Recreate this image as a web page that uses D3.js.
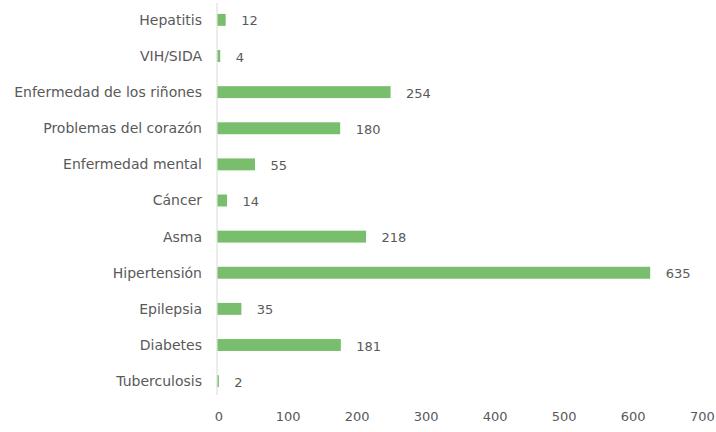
<!DOCTYPE html>
<html>
<head>
<meta charset="utf-8">
<script src="https://cdn.jsdelivr.net/npm/d3@7"></script>
<style>
  body { margin: 0; background: #fff; }
  text { font-family: "DejaVu Sans", sans-serif; fill: #595959; }
</style>
</head>
<body>
<svg id="viz" width="716" height="432"></svg>
<script>
var categories = ['Hepatitis', 'VIH/SIDA', 'Enfermedad de los riñones', 'Problemas del corazón',
	'Enfermedad mental', 'Cáncer', 'Asma', 'Hipertensión', 'Epilepsia', 'Diabetes', 'Tuberculosis'];
var values = [12, 4, 254, 180, 55, 14, 218, 635, 35, 181, 2];
var tickValues = [0, 100, 200, 300, 400, 500, 600, 700];

var viz = d3.select('#viz');

var x = d3.scaleLinear().domain([0, 700]).range([217, 694]);
var y = d3.scaleBand().domain(categories).range([2, 399]).paddingInner(0.67).paddingOuter(0.33);

// axis line
viz.append('line')
	.attr('x1', x(0)).attr('x2', x(0))
	.attr('y1', 3).attr('y2', 395)
	.attr('stroke', '#d9d9d9').attr('stroke-width', 1);

// bars
viz.selectAll('rect.bar').data(values).enter()
	.append('rect')
	.attr('class', 'bar')
	.attr('x', x(0) + 0.5)
	.attr('y', function(d, i) { return y(categories[i]); })
	.attr('width', function(d) { return x(d) - x(0); })
	.attr('height', y.bandwidth())
	.attr('fill', '#78be6c');

// category labels
viz.selectAll('text.cat').data(categories).enter()
	.append('text')
	.attr('class', 'cat')
	.attr('x', 202)
	.attr('y', function(d) { return y(d) + y.bandwidth() / 2; })
	.attr('dy', '0.35em')
	.attr('text-anchor', 'end')
	.attr('font-size', 14)
	.text(function(d) { return d; });

// value labels
viz.selectAll('text.val').data(values).enter()
	.append('text')
	.attr('class', 'val')
	.attr('x', function(d) { return x(d) + 16; })
	.attr('y', function(d, i) { return y(categories[i]) + y.bandwidth() / 2 + 1; })
	.attr('dy', '0.35em')
	.attr('font-size', 13)
	.text(function(d) { return d; });

// x tick labels
viz.selectAll('text.tick').data(tickValues).enter()
	.append('text')
	.attr('class', 'tick')
	.attr('x', function(d) { return x(d) + 2 + d / 100 * 0.9; })
	.attr('y', 421)
	.attr('text-anchor', 'middle')
	.attr('font-size', 13)
	.text(function(d) { return d; });
</script>
</body>
</html>
